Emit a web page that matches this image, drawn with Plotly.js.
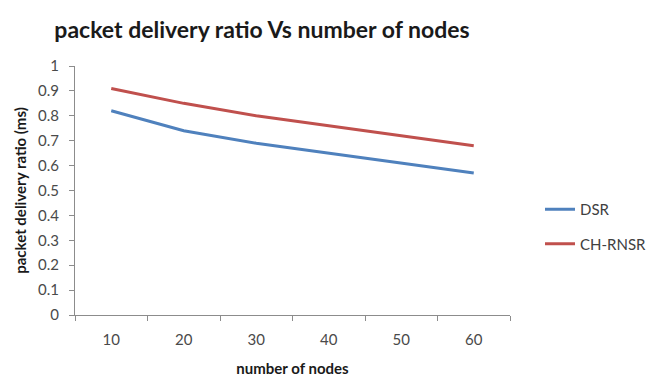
<!DOCTYPE html>
<html>
<head>
<meta charset="utf-8">
<script src="https://cdn.plot.ly/plotly-3.0.1.min.js"></script>
<style>
  html, body { margin: 0; padding: 0; background: #fff; }
  #chart { width: 651px; height: 380px; }
</style>
</head>
<body>
<div id="chart"></div>
<script>
// Number of nodes in the network (category axis)
const nodeCounts = ['10', '20', '30', '40', '50', '60'];

// Packet delivery ratio per protocol
const dsrRatio = [0.82, 0.74, 0.69, 0.65, 0.61, 0.57];
const chRnsrRatio = [0.91, 0.85, 0.80, 0.76, 0.72, 0.68];

const yTicks = [0, 0.1, 0.2, 0.3, 0.4, 0.5, 0.6, 0.7, 0.8, 0.9, 1];
const yTickText = ['0', '0.1', '0.2', '0.3', '0.4', '0.5', '0.6', '0.7', '0.8', '0.9', '1'];

const baseFont = 'Lato, "Open Sans", "DejaVu Sans", sans-serif';

const traces = [
  {
    name: 'DSR',
    x: nodeCounts,
    y: dsrRatio,
    type: 'scatter',
    mode: 'lines',
    line: { color: '#4F81BD', width: 3 },
    legendgroup: 'dsr'
  },
  {
    name: 'CH-RNSR',
    x: nodeCounts,
    y: chRnsrRatio,
    type: 'scatter',
    mode: 'lines',
    line: { color: '#C0504D', width: 3 },
    legendgroup: 'chrnsr'
  }
];

const layout = {
  width: 651,
  height: 380,
  paper_bgcolor: '#ffffff',
  plot_bgcolor: '#ffffff',
  margin: { l: 75, r: 141, t: 66, b: 65, autoexpand: false },
  font: { family: baseFont, color: '#404040', size: 15 },
  title: {
    text: '<b>packet delivery ratio Vs number of nodes</b>',
    font: { family: baseFont, size: 23, color: '#1a1a1a' },
    x: 262 / 651,
    xanchor: 'center',
    y: 1 - 30 / 380,
    yanchor: 'middle'
  },
  xaxis: {
    type: 'category',
    range: [-0.5, 5.5],
    showgrid: false,
    zeroline: false,
    showline: true,
    linecolor: '#8c8c8c',
    linewidth: 1,
    ticks: 'outside',
    tickson: 'boundaries',
    ticklen: 5,
    tickcolor: '#8c8c8c',
    ticklabelstandoff: 11,
    tickfont: { family: baseFont, size: 15, color: '#4a4a4a' },
    title: {
      text: '<b>number of nodes</b>',
      font: { family: baseFont, size: 15, color: '#1a1a1a' },
      standoff: 16
    },
    automargin: true,
    fixedrange: true
  },
  yaxis: {
    range: [0, 1],
    tickvals: yTicks,
    ticktext: yTickText,
    showgrid: false,
    zeroline: false,
    showline: true,
    linecolor: '#8c8c8c',
    linewidth: 1,
    ticks: 'outside',
    ticklen: 5,
    tickcolor: '#8c8c8c',
    ticklabelstandoff: 7,
    tickfont: { family: baseFont, size: 15, color: '#4a4a4a' },
    title: {
      text: '<b>packet delivery ratio (ms)</b>',
      font: { family: baseFont, size: 15, color: '#1a1a1a' },
      standoff: 7
    },
    automargin: true,
    fixedrange: true
  },
  showlegend: true,
  legend: {
    x: (540 - 75) / 435,
    xanchor: 'left',
    y: (315 - 193) / 249,
    yanchor: 'top',
    traceorder: 'grouped',
    tracegroupgap: 12,
    font: { family: baseFont, size: 15, color: '#404040' },
    bgcolor: 'rgba(0,0,0,0)'
  }
};

Plotly.newPlot('chart', traces, layout, { displayModeBar: false, staticPlot: true });
</script>
</body>
</html>
